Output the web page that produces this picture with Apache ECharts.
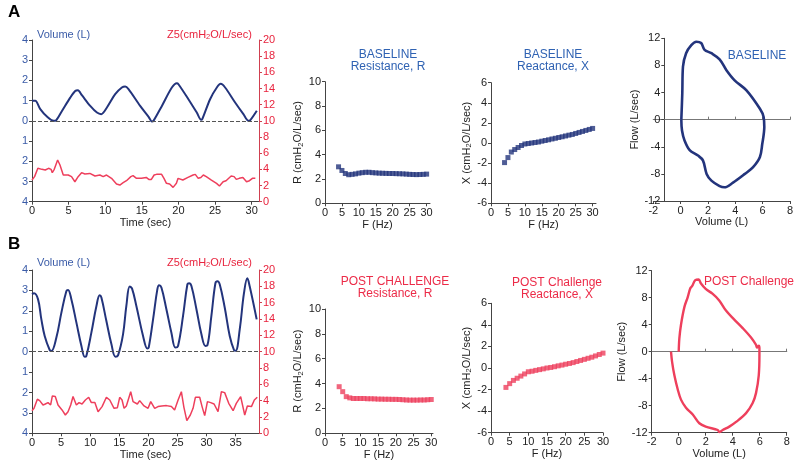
<!DOCTYPE html>
<html><head><meta charset="utf-8">
<script src="https://cdn.jsdelivr.net/npm/echarts@6/dist/echarts.min.js"></script>
<style>html,body{margin:0;padding:0;background:#fff}#c{width:800px;height:467px}</style>
</head><body><div id="c"></div>
<script>
// ---------- DATA ----------
// Panel A time series
const tA_vol = [0,0.45,1.13,2.04,2.95,3.27,4.09,5.22,5.9,6.27,6.81,7.95,8.87,9.45,10.23,11.36,12.27,12.73,13.18,14.77,15.9,16.37,16.59,17.74,19.1,19.78,20.0,21.36,22.5,23.1,23.27,24.32,25.24,25.78,26.37,27.74,28.87,29.55,29.78,30.7];
const vA     = [1.0,1.0,0.58,0.21,0.0,0.02,0.49,1.15,1.48,1.51,1.27,0.74,0.41,0.33,0.66,1.32,1.65,1.7,1.57,0.74,0.21,-0.03,0.0,0.74,1.65,1.86,1.81,1.07,0.41,0.05,0.1,1.07,1.65,1.83,1.65,0.91,0.33,0.0,0.02,0.5];
const tA_z = [0,0.35,0.8,1.36,1.81,2.26,2.6,2.77,3.04,3.5,3.82,4.27,4.95,5.4,5.86,6.3,6.77,7.22,7.9,8.6,9.27,9.72,10.18,10.86,11.54,12.0,12.45,12.9,13.5,13.8,14.27,14.95,15.6,15.95,16.3,16.68,17.0,17.7,18.04,18.36,18.8,19.27,19.72,19.95,20.18,20.6,21.3,22.0,22.3,22.7,23.06,23.4,23.8,24.5,25.2,25.6,26.1,26.5,27.2,27.6,27.9,28.3,28.8,29.3,29.7,30.1,30.5];
const zA   = [2.68,3.1,4.13,4.0,3.92,4.13,4.0,3.59,4.0,5.16,4.54,3.3,3.3,3.1,2.47,3.1,3.59,3.43,3.5,3.18,3.3,3.1,3.3,2.89,2.19,2.06,2.35,2.6,3.1,3.22,2.89,2.89,3.0,2.76,2.76,3.3,3.38,3.38,2.85,2.27,2.19,1.77,2.27,2.89,2.68,2.68,3.0,3.3,3.38,2.89,3.0,3.3,3.1,2.68,2.27,1.94,2.47,2.6,3.18,3.1,2.76,2.89,3.0,2.47,2.6,2.89,2.89];
// Panel B time series
const tB_vol = [0,0.35,1.04,1.61,2.18,3.04,3.33,4.19,5.05,5.91,6.19,6.77,7.63,8.49,9.06,9.34,10.2,11.07,11.63,11.92,12.78,13.65,14.33,14.78,15.64,16.21,16.79,17.19,17.93,19.08,19.82,20.05,20.8,21.54,21.83,22.23,23.09,23.95,24.64,25.09,25.95,26.7,26.98,27.39,28.25,29.11,29.8,30.14,30.82,31.51,31.86,32.25,33.11,33.97,34.71,35.0,35.69,36.43,37.0,37.4,38.6];
const vB     = [2.81,2.86,2.56,1.58,0.77,0.08,0.03,0.69,1.91,2.97,3.02,2.56,1.42,0.28,-0.25,-0.21,0.93,2.24,2.76,2.65,1.5,0.36,-0.25,-0.18,0.85,2.24,3.19,3.09,2.24,0.77,0.15,0.2,1.58,3.06,3.25,3.14,2.08,0.93,0.2,0.28,1.75,3.3,3.35,3.22,2.08,0.85,0.28,0.31,1.75,3.35,3.45,3.3,2.16,0.77,0.08,0.05,1.09,2.89,3.59,3.2,1.58];
const tB_z = [0,0.35,0.92,1.32,1.89,2.29,2.75,3.2,3.5,4.0,4.47,5.16,5.73,6.19,6.65,7.05,7.62,8.08,8.6,8.94,9.17,9.74,10.2,10.8,11.35,12.04,12.78,13.36,14.1,14.67,15.07,15.47,15.82,16.21,16.96,17.36,18.1,18.5,19.25,19.94,20.4,21.08,21.65,22.3,23.1,23.95,24.5,25.1,25.66,26.1,26.6,27.2,27.67,28.07,28.81,29.22,29.67,30.14,30.7,31.28,31.96,32.54,33.1,33.8,34.55,35.1,35.85,36.55,37.0,37.7,38.2,38.7];
const zB   = [2.77,3.06,4.17,4.0,3.47,3.59,3.76,3.47,4.58,4.5,3.47,2.86,2.24,2.65,3.47,4.5,3.47,3.76,3.59,3.47,4.08,4.41,3.76,3.76,2.65,3.27,4.41,4.08,3.06,3.14,4.41,4.08,3.06,3.35,5.1,3.88,3.59,4.0,3.35,3.06,3.88,3.06,3.27,3.35,3.39,3.27,2.86,4.08,5.1,3.18,1.55,2.24,3.06,4.41,4.41,3.27,2.16,3.88,3.76,3.59,2.65,5.1,4.98,3.67,2.77,3.67,4.5,2.24,3.35,3.27,4.08,4.41];
// Oscillometry spectra
const freqHz = [4,5,6,7,8,9,10,11,12,13,14,15,16,17,18,19,20,21,22,23,24,25,26,27,28,29,30];
const rBase  = [3.0,2.7,2.45,2.35,2.38,2.42,2.48,2.52,2.55,2.55,2.52,2.5,2.48,2.47,2.46,2.45,2.45,2.44,2.43,2.42,2.4,2.38,2.37,2.36,2.37,2.38,2.4];
const xBase  = [-1.95,-1.45,-0.9,-0.65,-0.45,-0.25,-0.1,-0.05,0.0,0.05,0.1,0.18,0.25,0.32,0.4,0.47,0.55,0.62,0.7,0.78,0.85,0.95,1.05,1.15,1.25,1.35,1.45];
const rPost  = [3.75,3.35,2.95,2.85,2.8,2.8,2.8,2.8,2.78,2.78,2.77,2.75,2.75,2.74,2.74,2.73,2.73,2.72,2.7,2.68,2.67,2.67,2.67,2.68,2.68,2.7,2.72];
const xPost  = [-1.8,-1.45,-1.15,-0.95,-0.75,-0.55,-0.35,-0.3,-0.22,-0.15,-0.08,0.0,0.05,0.12,0.2,0.27,0.35,0.42,0.5,0.6,0.7,0.8,0.9,1.0,1.12,1.25,1.38];
// Flow-volume loops
const loopA_vol  = [0.05,0.12,0.17,0.4,0.78,1.15,1.5,1.75,2.25,2.85,3.35,3.95,4.8,5.8,6.07,6.12,5.97,5.8,5.3,4.7,3.83,3.2,2.85,2.25,1.9,1.63,1.27,0.66,0.29,0.1,0.05];
const loopA_flow = [0,3.85,7.8,9.8,11.0,11.5,11.3,10.3,9.8,8.9,7.3,5.8,4.35,1.6,0.4,-1.1,-3.6,-5.5,-7.0,-8.0,-9.3,-9.98,-9.8,-9.0,-8.0,-6.0,-5.3,-4.5,-3.1,-1.6,0];
const loopB_vol  = [0,0.05,0.17,0.42,0.67,0.86,0.99,1.23,1.48,1.65,2.0,2.5,3.0,3.5,4.1,4.74,5.36,5.73,5.8,5.93,5.98,5.98,5.93,5.73,5.48,4.99,4.25,3.75,3.26,3.0,2.9,2.0,1.53,1.04,0.54,0.17,-0.07,-0.32,-0.49,-0.57];
const loopB_flow = [0,2,4,6.6,8.1,9.4,9.7,10.6,10.7,10.1,9.3,8.6,7.6,6.1,4.8,3.5,2.1,1.0,0.6,0.9,0.5,-0.5,-3.5,-6.1,-7.6,-9.1,-10.4,-11.1,-11.6,-11.9,-11.6,-11.1,-10.6,-9.3,-8.3,-7.1,-5.6,-3.5,-1.5,0];

// ---------- STYLE ----------
const FONT = 'Liberation Sans, Arial, sans-serif';
const NAVY = '#23347c', PINK = '#ee3f5c', BLUE_T = '#2f62b3', RED_T = '#ec2b48';
const LBLUE = '#3b5ca8', LRED = '#e8243e', TXT = '#222', AX = '#444';
const FS = 11;
const zip = (a, b) => a.map((v, i) => [v, b[i]]);
const range = (a, b, s) => { const r = []; for (let v = a; v <= b + 1e-9; v += s) r.push(+v.toFixed(6)); return r; };
const mkRich = c => ({ a: { fontSize: FS, fontWeight: 'normal', color: c, fontFamily: FONT }, s: { fontSize: 7.5, fontWeight: 'normal', color: c, fontFamily: FONT, verticalAlign: 'bottom', padding: [5, 0, 0, 0] } });

function xAx(grid, min, max, step, name, gap) {
  const vals = range(Math.ceil(min / step) * step, max, step);
  return { type: 'value', gridIndex: grid, min, max, interval: step, name, nameLocation: 'middle', nameGap: gap,
    nameTextStyle: { fontFamily: FONT, fontSize: FS, color: TXT },
    axisLine: { onZero: false, lineStyle: { color: AX } },
    axisTick: { length: 3, lineStyle: { color: AX }, customValues: vals },
    axisLabel: { fontFamily: FONT, fontSize: FS, color: TXT, margin: 4, customValues: vals },
    splitLine: { show: false } };
}
function yAx(grid, min, max, step, extra) {
  const vals = range(min, max, step);
  return Object.assign({ type: 'value', gridIndex: grid, min, max, interval: step,
    axisLine: { show: true, onZero: false, lineStyle: { color: AX } },
    axisTick: { show: true, length: 3, lineStyle: { color: AX }, customValues: vals },
    axisLabel: { fontFamily: FONT, fontSize: FS, color: TXT, margin: 4, customValues: vals },
    splitLine: { show: false } }, extra || {});
}
function yName(label, gap) {
  return { name: '{a|' + label + ' (cmH}{s|2}{a|O/L/sec)}', nameLocation: 'middle', nameGap: gap, nameRotate: 90,
    nameTextStyle: { rich: mkRich(TXT) } };
}
function zeroAx(grid) {
  return { type: 'value', gridIndex: grid, min: -2, max: 8, interval: 2, position: 'bottom',
    axisLine: { onZero: true, lineStyle: { color: '#777', width: 1.2 } },
    axisTick: { show: true, length: 3, inside: true, lineStyle: { color: '#777' }, customValues: [2, 4, 6, 8] },
    axisLabel: { show: false }, splitLine: { show: false } };
}
function tsLeft(grid) {
  const a = yAx(grid, -4, 4, 1);
  a.axisLabel.color = LBLUE; a.axisLabel.formatter = v => String(Math.abs(v));
  return a;
}
function tsRight(grid) {
  const a = yAx(grid, 0, 20, 2, { position: 'right' });
  a.axisLabel.color = LRED; a.axisLine.lineStyle.color = '#d04050'; a.axisTick.lineStyle.color = '#d04050';
  return a;
}
function flowAx(grid, gap, offset) {
  return yAx(grid, -12, 12, 4, { offset: offset, name: 'Flow (L/sec)', nameLocation: 'middle', nameGap: gap,
    nameTextStyle: { fontFamily: FONT, fontSize: FS, color: TXT } });
}
function titleTxt(text, left, top, color) {
  return { text, left, top, textAlign: 'center', padding: 0,
    textStyle: { fontFamily: FONT, fontSize: 12, fontWeight: 'normal', color, lineHeight: 12 } };
}
function corner(text, left, top, color) {
  return { text, left, top, padding: 0, textStyle: { fontFamily: FONT, fontSize: FS, fontWeight: 'normal', color, rich: mkRich(color) } };
}

const option = {
  animation: false,
  backgroundColor: '#fff',
  title: [
    { text: 'A', left: 8, top: 4, padding: 0, textStyle: { fontFamily: FONT, fontSize: 17, fontWeight: 'bold', color: '#000' } },
    { text: 'B', left: 8, top: 236, padding: 0, textStyle: { fontFamily: FONT, fontSize: 17, fontWeight: 'bold', color: '#000' } },
    corner('Volume (L)', 37, 29, LBLUE),
    corner('{a|Z5(cmH}{s|2}{a|O/L/sec)}', 167, 28, LRED),
    corner('Volume (L)', 37, 257, LBLUE),
    corner('{a|Z5(cmH}{s|2}{a|O/L/sec)}', 167, 256, LRED),
    titleTxt('BASELINE\nResistance, R', 388, 49, BLUE_T),
    titleTxt('BASELINE\nReactance, X', 553, 49, BLUE_T),
    titleTxt('BASELINE', 757, 50, BLUE_T),
    titleTxt('POST CHALLENGE\nResistance, R', 395, 276, RED_T),
    titleTxt('POST Challenge\nReactance, X', 557, 277, RED_T),
    titleTxt('POST Challenge', 749, 276, RED_T)
  ],
  grid: [
    { left: 32, top: 40, width: 227, height: 161.7 },
    { left: 325, top: 81.7, width: 105, height: 121.6 },
    { left: 491, top: 82.7, width: 105, height: 120.6 },
    { left: 653.3, top: 38.3, width: 136.7, height: 162.7 },
    { left: 32, top: 270, width: 227, height: 163.3 },
    { left: 325, top: 309, width: 108, height: 124.3 },
    { left: 491, top: 303.3, width: 112, height: 129.4 },
    { left: 651.7, top: 270.7, width: 135, height: 162 }
  ],
  xAxis: [
    xAx(0, 0, 31, 5, 'Time (sec)', 16),
    xAx(1, 0, 31, 5, 'F (Hz)', 14),
    xAx(2, 0, 31, 5, 'F (Hz)', 14),
    xAx(3, -2, 8, 2, 'Volume (L)', 15),
    zeroAx(3),
    xAx(4, 0, 39, 5, 'Time (sec)', 15),
    xAx(5, 0, 30.5, 5, 'F (Hz)', 14),
    xAx(6, 0, 30, 5, 'F (Hz)', 14),
    xAx(7, -2, 8, 2, 'Volume (L)', 15),
    zeroAx(7)
  ],
  yAxis: [
    tsLeft(0),
    tsRight(0),
    yAx(1, 0, 10, 2, yName('R', 16)),
    yAx(2, -6, 6, 2, yName('X', 16)),
    flowAx(3, 24, -11),
    tsLeft(4),
    tsRight(4),
    yAx(5, 0, 10, 2, yName('R', 16)),
    yAx(6, -6, 6, 2, yName('X', 16)),
    flowAx(7, 15, 0)
  ],
  series: [
    { type: 'line', xAxisIndex: 0, yAxisIndex: 0, data: zip(tA_vol, vA), smooth: 0.3, showSymbol: false,
      lineStyle: { color: NAVY, width: 2 },
      markLine: { silent: true, symbol: 'none', label: { show: false }, lineStyle: { type: 'dashed', color: '#555', width: 1 }, data: [{ yAxis: 0 }] } },
    { type: 'line', xAxisIndex: 0, yAxisIndex: 1, data: zip(tA_z, zA), showSymbol: false, lineStyle: { color: PINK, width: 1.5 } },
    { type: 'scatter', xAxisIndex: 1, yAxisIndex: 2, data: zip(freqHz, rBase), symbol: 'rect', symbolSize: 5, itemStyle: { color: NAVY } },
    { type: 'scatter', xAxisIndex: 2, yAxisIndex: 3, data: zip(freqHz, xBase), symbol: 'rect', symbolSize: 5, itemStyle: { color: NAVY } },
    { type: 'line', xAxisIndex: 3, yAxisIndex: 4, data: zip(loopA_vol, loopA_flow), smooth: 0.35, showSymbol: false, lineStyle: { color: NAVY, width: 2.6 } },
    { type: 'line', xAxisIndex: 5, yAxisIndex: 5, data: zip(tB_vol, vB), smooth: 0.4, showSymbol: false,
      lineStyle: { color: NAVY, width: 2 },
      markLine: { silent: true, symbol: 'none', label: { show: false }, lineStyle: { type: 'dashed', color: '#555', width: 1 }, data: [{ yAxis: 0 }] } },
    { type: 'line', xAxisIndex: 5, yAxisIndex: 6, data: zip(tB_z, zB), showSymbol: false, lineStyle: { color: PINK, width: 1.5 } },
    { type: 'scatter', xAxisIndex: 6, yAxisIndex: 7, data: zip(freqHz, rPost), symbol: 'rect', symbolSize: 5, itemStyle: { color: PINK } },
    { type: 'scatter', xAxisIndex: 7, yAxisIndex: 8, data: zip(freqHz, xPost), symbol: 'rect', symbolSize: 5, itemStyle: { color: PINK } },
    { type: 'line', xAxisIndex: 8, yAxisIndex: 9, data: zip(loopB_vol, loopB_flow), smooth: 0.35, showSymbol: false, lineStyle: { color: PINK, width: 2.4 } }
  ]
};
const chart = echarts.init(document.getElementById('c'), null, { renderer: 'canvas' });
chart.setOption(option);
</script></body></html>
